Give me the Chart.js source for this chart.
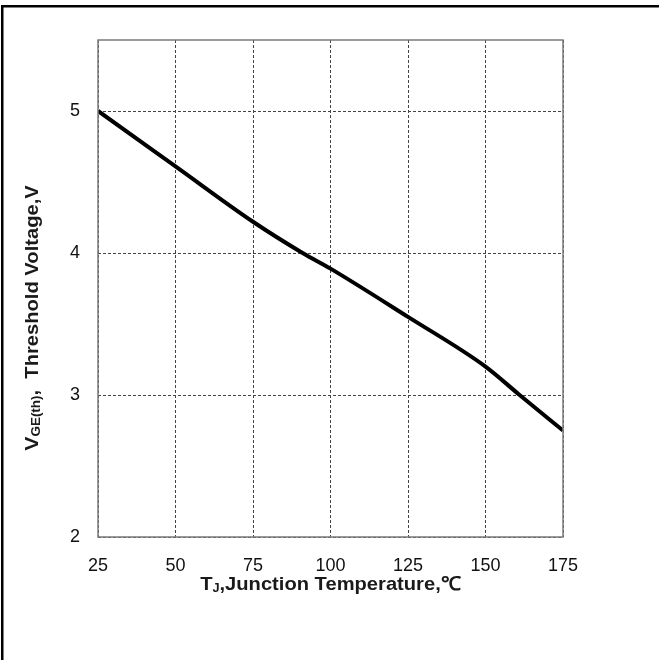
<!DOCTYPE html>
<html>
<head>
<meta charset="utf-8">
<script src="https://cdn.jsdelivr.net/npm/chart.js@4/dist/chart.umd.min.js"></script>
<style>
  html, body { margin: 0; padding: 0; background: #fff; }
  #wrap { width: 659px; height: 660px; }
</style>
</head>
<body>
<div id="wrap"><canvas id="chart" width="659" height="660"></canvas></div>
<script>
// --- DATA ---
const tempC = [25, 50, 75, 91, 100, 125, 150, 161, 175];
const vth = [5.0, 4.61, 4.22, 4.0, 3.89, 3.55, 3.2, 3.0, 2.75];
const xTicks = [25, 50, 75, 100, 125, 150, 175];
const yTicks = [2, 3, 4, 5];

const FONT = "'Liberation Sans', Arial, sans-serif";

// draws a string made of parts (for subscripts), centred at x,y
function drawRich(ctx, parts, x, y, angle, stretch) {
  ctx.save();
  ctx.translate(x, y);
  ctx.rotate(angle);
  ctx.scale(stretch || 1, 1);
  ctx.textBaseline = "middle";
  ctx.textAlign = "left";
  let total = 0;
  parts.forEach((p) => {
    ctx.font = p.font;
    total += ctx.measureText(p.t).width;
  });
  let cx = -total / 2;
  parts.forEach((p) => {
    ctx.font = p.font;
    ctx.fillStyle = "#1a1a1a";
    ctx.fillText(p.t, cx, p.dy || 0);
    cx += ctx.measureText(p.t).width;
  });
  ctx.restore();
}

const framePlugin = {
  id: "frame",
  afterDraw(chart) {
    const { ctx, chartArea: a } = chart;
    ctx.save();
    // plot border
    ctx.strokeStyle = "#7a7a7a";
    ctx.lineWidth = 1.5;
    ctx.strokeRect(a.left, a.top, a.right - a.left, a.bottom - a.top);
    // outer frame (top + left only)
    ctx.fillStyle = "#000";
    ctx.fillRect(1, 5, 658, 2.5);
    ctx.fillRect(1, 5, 2.5, 655);
    ctx.restore();

    // axis titles
    const xMid = (a.left + a.right) / 2;
    drawRich(ctx, [
      { t: "T", font: `bold 19px ${FONT}` },
      { t: "J", font: `bold 12px ${FONT}`, dy: 4 },
      { t: ",Junction Temperature,℃", font: `bold 19px ${FONT}` },
    ], xMid, 585, 0, 1.06);

    drawRich(ctx, [
      { t: "V", font: `bold 19px ${FONT}` },
      { t: "GE(th)", font: `bold 12px ${FONT}`, dy: 4 },
      { t: ",  Threshold Voltage,V", font: `bold 18px ${FONT}` },
    ], 33, 318, -Math.PI / 2, 1.12);
  },
};

new Chart(document.getElementById("chart"), {
  type: "line",
  data: {
    datasets: [
      {
        data: tempC.map((t, i) => ({ x: t, y: vth[i] })),
        borderColor: "#000",
        borderWidth: 4,
        pointRadius: 0,
        cubicInterpolationMode: "monotone",
        fill: false,
      },
    ],
  },
  options: {
    responsive: false,
    animation: false,
    layout: { padding: { top: 40, right: 96, left: 0, bottom: 0 } },
    plugins: { legend: { display: false }, tooltip: { enabled: false } },
    scales: {
      x: {
        type: "linear",
        min: 25,
        max: 175,
        afterFit: (s) => { s.height = 123; },
        afterBuildTicks: (s) => { s.ticks = xTicks.map((v) => ({ value: v })); },
        grid: { color: "#444", lineWidth: 1, drawTicks: false },
        border: { display: false, dash: [3, 2] },
        ticks: { padding: 18, color: "#111", font: { size: 18, family: FONT } },
      },
      y: {
        min: 2,
        max: 5.5,
        afterFit: (s) => { s.width = 98; },
        afterBuildTicks: (s) => { s.ticks = yTicks.map((v) => ({ value: v })); },
        grid: { color: "#444", lineWidth: 1, drawTicks: false },
        border: { display: false, dash: [3, 2] },
        ticks: { padding: 18, color: "#111", font: { size: 18, family: FONT } },
      },
    },
  },
  plugins: [framePlugin],
});
</script>
</body>
</html>
